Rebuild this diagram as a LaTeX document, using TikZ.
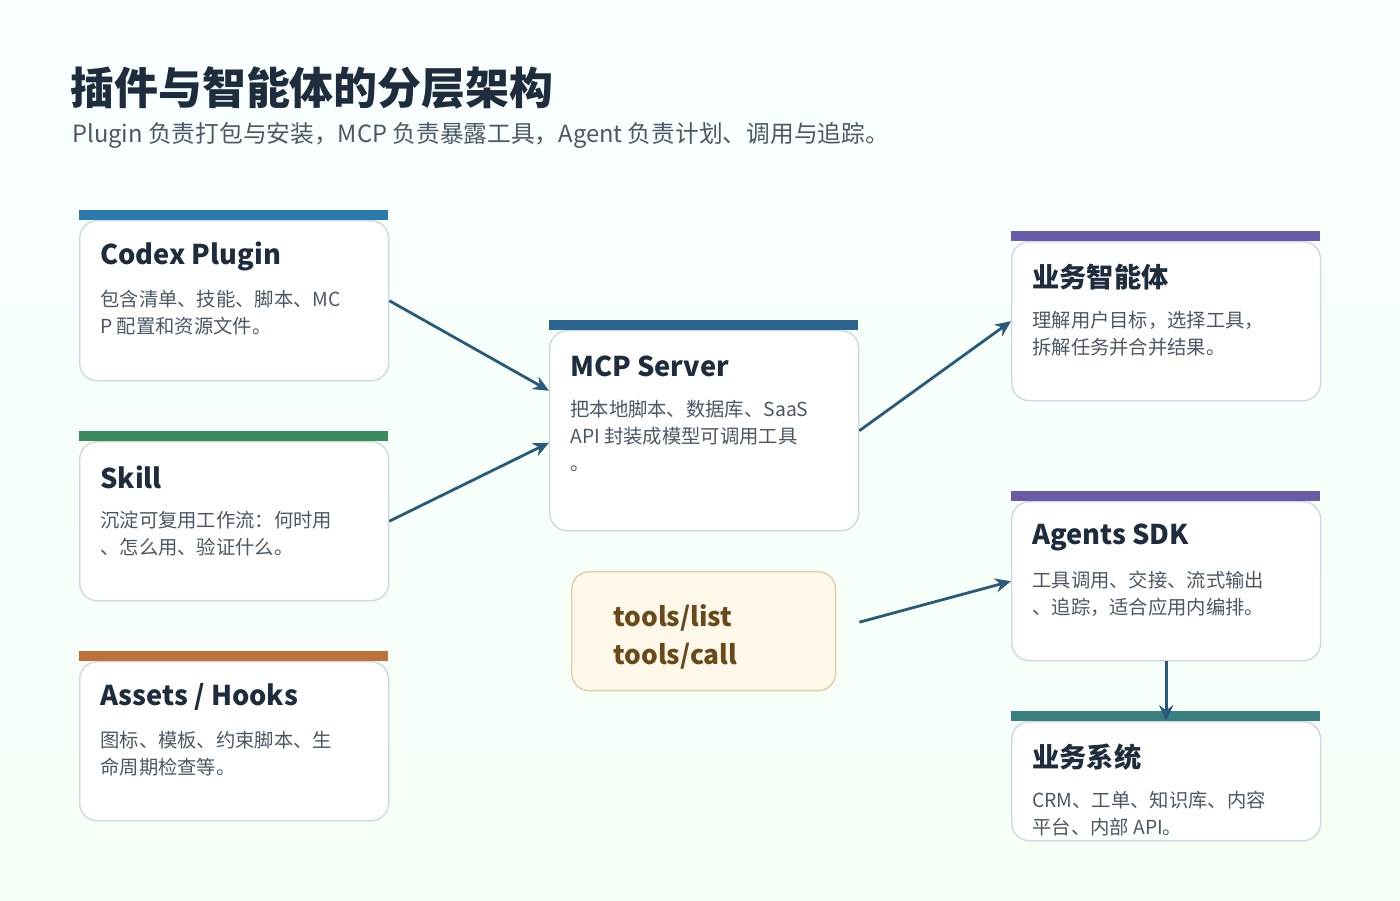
\documentclass[tikz,border=0pt]{standalone}
\usepackage{fontspec}
\setmainfont{Noto Sans CJK SC}
\usetikzlibrary{positioning,calc,arrows.meta}
\definecolor{ink}{HTML}{1E2D3D}
\definecolor{bodytxt}{HTML}{4A5866}
\definecolor{edge}{HTML}{CDD8E2}
\definecolor{arrowc}{HTML}{2A5A7A}
\definecolor{cblue}{HTML}{2A7AAB}
\definecolor{cgreen}{HTML}{3A8A5C}
\definecolor{corange}{HTML}{C0703A}
\definecolor{cnavy}{HTML}{2A6590}
\definecolor{cpurple}{HTML}{6A5AAA}
\definecolor{cteal}{HTML}{3A8080}
\definecolor{toolfill}{HTML}{FDF8EA}
\definecolor{tooledge}{HTML}{E2CFA0}
\definecolor{tooltxt}{HTML}{6B4A1A}
\tikzset{
  card/.style={draw=edge, fill=white, rounded corners=10pt, line width=0.8pt,
    minimum width=6.18cm, anchor=north west, inner sep=0pt},
  cardtitle/.style={anchor=west, font=\fontsize{15.5}{18}\selectfont\bfseries, text=ink, inner sep=0pt},
  cardbody/.style={anchor=north west, align=left, font=\fontsize{11}{15.3}\selectfont, text=bodytxt, inner sep=0pt},
  link/.style={draw=arrowc, line width=1.6pt, -{Stealth[length=9pt,width=8pt]}}
}
% card: name, x, ytop, height, colour, title, body
\newcommand{\infocard}[7]{
  \node[card, minimum height=#4*0.02cm] (#1) at (#2,#3+10) {};
  \fill[#5] (#2,#3) rectangle (#2+309,#3+10);
  \node[cardtitle] (#1-title) at (#2+21,#3+46) {#6};
  \node[cardbody] (#1-body) at (#2+21,#3+80) {#7};
}
\begin{document}
\begin{tikzpicture}[x=0.02cm,y=-0.02cm]
  \shade[top color=white!60!cyan!6, bottom color=green!4!white] (0,0) rectangle (1400,900);
  \useasboundingbox (0,0) rectangle (1400,900);

  \node[anchor=west, inner sep=0pt, font=\fontsize{25}{30}\selectfont\bfseries, text=ink] (heading) at (70,88) {插件与智能体的分层架构};
  \node[anchor=west, inner sep=0pt, font=\fontsize{13.5}{16}\selectfont, text=bodytxt] (subheading) at (72,135) {Plugin 负责打包与安装，MCP 负责暴露工具，Agent 负责计划、调用与追踪。};

  \infocard{plugin}{79}{210}{160}{cblue}{Codex Plugin}{包含清单、技能、脚本、MC\\P 配置和资源文件。}
  \infocard{skill}{79}{431}{159}{cgreen}{Skill}{沉淀可复用工作流：何时用\\、怎么用、验证什么。}
  \infocard{assets}{79}{651}{159}{corange}{Assets / Hooks}{图标、模板、约束脚本、生\\命周期检查等。}
  \infocard{mcp}{549}{320}{200}{cnavy}{MCP Server}{把本地脚本、数据库、SaaS\\API 封装成模型可调用工具\\。}
  \infocard{agent}{1011}{231}{159}{cpurple}{业务智能体}{理解用户目标，选择工具，\\拆解任务并合并结果。}
  \infocard{sdk}{1011}{491}{159}{cpurple}{Agents SDK}{工具调用、交接、流式输出\\、追踪，适合应用内编排。}
  \infocard{system}{1011}{711}{119}{cteal}{业务系统}{CRM、工单、知识库、内容\\平台、内部 API。}

  \node[draw=tooledge, fill=toolfill, rounded corners=10pt, line width=0.8pt,
    minimum width=5.28cm, minimum height=2.38cm, anchor=north west] (tools) at (571,571) {};
  \node[anchor=north west, align=left, inner sep=0pt, text=tooltxt,
    font=\fontsize{15}{22}\selectfont\bfseries] (tools-text) at (613,604) {tools/list\\tools/call};

  \coordinate (tools-out) at ([xshift=0.46cm,yshift=0.18cm]tools.east);
  \draw[link] (plugin.east) -- ([yshift=0.8cm]mcp.west);
  \draw[link] (skill.east) -- ([yshift=-0.24cm]mcp.west);
  \draw[link] (mcp.east) -- (agent.west);
  \draw[link] (tools-out) -- (sdk.west);
  \draw[link] (sdk.south) -- (system.north);
\end{tikzpicture}
\end{document}
